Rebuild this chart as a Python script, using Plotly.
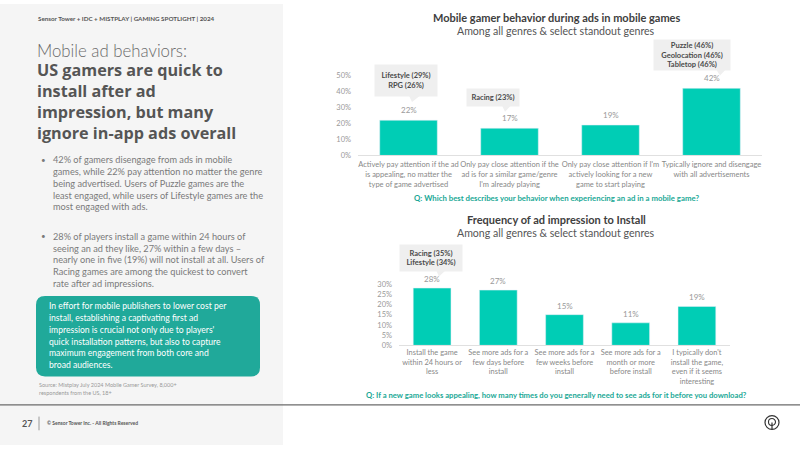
import plotly.graph_objects as go

# ---------------- data ----------------
cats1 = [
    "Actively pay attention if the ad<br>is appealing, no matter the<br>type of game advertised",
    "Only pay close attention if the<br>ad is for a similar game/genre<br>I'm already playing",
    "Only pay close attention if I'm<br>actively looking for a new<br>game to start playing",
    "Typically ignore and disengage<br>with all advertisements",
]
vals1 = [22, 17, 19, 42]
ticks1 = [0, 10, 20, 30, 40, 50]

cats2 = [
    "Install the game<br>within 24 hours or<br>less",
    "See more ads for a<br>few days before<br>install",
    "See more ads for a<br>few weeks before<br>install",
    "See more ads for a<br>month or more<br>before install",
    "I typically don't<br>install the game,<br>even if it seems<br>interesting",
]
vals2 = [28, 27, 15, 11, 19]
ticks2 = [0, 5, 10, 15, 20, 25, 30]

callout_texts1 = ["Lifestyle (29%)<br>RPG (26%)", "Racing (23%)",
                  "Puzzle (46%)<br>Geolocation (46%)<br>Tabletop (46%)"]
callout_texts2 = ["Racing (35%)<br>Lifestyle (34%)"]

title1 = "Mobile gamer behavior during ads in mobile games"
title2 = "Frequency of ad impression to Install"
subtitle = "Among all genres & select standout genres"
question1 = "Q: Which best describes your behavior when experiencing an ad in a mobile game?"
question2 = "Q: If a new game looks appealing, how many times do you generally need to see ads for it before you download?"

header = "Sensor Tower + IDC + MISTPLAY | GAMING SPOTLIGHT | 2024"
headline_light = "Mobile ad behaviors:"
headline_bold = ["US gamers are quick to", "install after ad", "impression, but many",
                 "ignore in-app ads overall"]
bullet1 = ["42% of gamers disengage from ads in mobile",
           "games, while 22% pay attention no matter the genre",
           "being advertised. Users of Puzzle games are the",
           "least engaged, while users of Lifestyle games are the",
           "most engaged with ads."]
bullet2 = ["28% of players install a game within 24 hours of",
           "seeing an ad they like, 27% within a few days –",
           "nearly one in five (19%) will not install at all. Users of",
           "Racing games are among the quickest to convert",
           "rate after ad impressions."]
box_lines = ["In effort for mobile publishers to lower cost per",
             "install, establishing a captivating first ad",
             "impression is crucial not only due to players'",
             "quick installation patterns, but also to capture",
             "maximum engagement from both core and",
             "broad audiences."]
source_lines = ["Source: Mistplay July 2024 Mobile Gamer Survey, 8,000+",
                "respondents from the US, 18+"]
page_no = "27"
copyright_txt = "© Sensor Tower Inc. - All Rights Reserved"

# ---------------- style ----------------
W, H = 800, 450
FONT = "Lato, 'Open Sans', sans-serif"
HEAD = "'Open Sans', Lato, sans-serif"
BAR = "#00cdb5"
TEAL_BOX = "#20a99a"
TEAL_TXT = "#1aa896"
GRAY = "#7a7a7a"


def px(x):
    return x / W


def py(y):
    return 1 - y / H


fig = go.Figure()
fig.add_trace(go.Bar(x=cats1, y=vals1, marker_color=BAR, width=0.57,
                     xaxis="x", yaxis="y", hoverinfo="skip"))
fig.add_trace(go.Bar(x=cats2, y=vals2, marker_color=BAR, width=0.57,
                     xaxis="x2", yaxis="y2", hoverinfo="skip"))

ann = []
shapes = []


def text(x, y, t, size, color, family=FONT, anchor="left", **kw):
    font = dict(family=family, size=size, color=color)
    if "weight" in kw:
        font["weight"] = kw.pop("weight")
    ann.append(dict(x=px(x), y=py(y), xref="paper", yref="paper", text=t, showarrow=False,
                    xanchor=anchor, yanchor="middle", borderpad=0, font=font, **kw))


# value labels
for c, v in zip(cats1, vals1):
    ann.append(dict(x=c, y=v, xref="x", yref="y", text=f"{v}%", showarrow=False,
                    yshift=10, font=dict(family=FONT, size=8, color="#999999")))
for c, v in zip(cats2, vals2):
    ann.append(dict(x=c, y=v, xref="x2", yref="y2", text=f"{v}%", showarrow=False,
                    yshift=9, font=dict(family=FONT, size=8, color="#999999")))

# callouts (box center px, size, pointer triangle px)
callout_geo1 = [
    (406, 78.5, 62, 31, [(409, 93.5), (420, 93.5), (412, 100)]),
    (493, 95.5, 52, 17, [(502, 103.5), (511, 103.5), (505, 110)]),
    (692, 52, 76, 30, [(716, 66.5), (726, 66.5), (720, 73)]),
]
callout_geo2 = [
    (430.5, 259, 62, 26, [(436, 271.5), (446, 271.5), (439, 278)]),
]
for txt, (cx, cy, w, h, tri) in list(zip(callout_texts1, callout_geo1)) + list(zip(callout_texts2, callout_geo2)):
    ann.append(dict(x=px(cx), y=py(cy), xref="paper", yref="paper", text=f"<b>{txt}</b>",
                    showarrow=False, width=w, height=h, bgcolor="#efefef", align="center",
                    valign="middle", borderpad=0, xanchor="center", yanchor="middle",
                    font=dict(family=FONT, size=7.5, color="#4a4a4a")))
    path = "M {} {} L {} {} L {} {} Z".format(*[v for p in tri for v in (px(p[0]), py(p[1]))])
    shapes.append(dict(type="path", xref="paper", yref="paper", path=path,
                       fillcolor="#efefef", line=dict(width=0)))

# chart titles and questions
for txt, y, size, bold, color in [
    (title1, 14, 11, True, "#404040"), (subtitle, 27.5, 10.6, False, "#555555"),
    (question1, 198, 7.8, True, TEAL_TXT),
    (title2, 220, 11, True, "#404040"), (subtitle, 233.5, 10.6, False, "#555555"),
    (question2, 399, 7.7, True, TEAL_TXT),
]:
    text(556, y, f"<b>{txt}</b>" if bold else txt, size, color, anchor="center")

# left panel
shapes.append(dict(type="rect", xref="paper", yref="paper", x0=0, x1=px(283), y0=0, y1=1,
                   fillcolor="#f5f5f5", line=dict(width=0), layer="below"))
text(37, 15, f"<b>{header}</b>", 6.25, "#555555")
text(36, 47, headline_light, 16.8, "#6a6a6a", weight=300)
text(36, 68 + 1.5 * 21, "<br>".join(f"<b>{l}</b>" for l in headline_bold), 16.2, "#555555",
     family=HEAD, align="left")
for start, lines in [(159, bullet1), (237, bullet2)]:
    text(40, start, "•", 8, GRAY)
    for i, line in enumerate(lines):
        text(52, start + i * 12, line, 9.2, GRAY)

# teal rounded box
x0, x1, y0, y1, r = 36, 260, 298, 380, 9
path = (f"M {px(x0 + r)} {py(y0)} L {px(x1 - r)} {py(y0)} Q {px(x1)} {py(y0)} {px(x1)} {py(y0 + r)} "
        f"L {px(x1)} {py(y1 - r)} Q {px(x1)} {py(y1)} {px(x1 - r)} {py(y1)} "
        f"L {px(x0 + r)} {py(y1)} Q {px(x0)} {py(y1)} {px(x0)} {py(y1 - r)} "
        f"L {px(x0)} {py(y0 + r)} Q {px(x0)} {py(y0)} {px(x0 + r)} {py(y0)} Z")
shapes.append(dict(type="path", xref="paper", yref="paper", path=path,
                   fillcolor=TEAL_BOX, line=dict(width=0)))
for i, line in enumerate(box_lines):
    text(48, 308.5 + i * 12, line, 8.6, "white")
for i, line in enumerate(source_lines):
    text(38, 389 + i * 8, line, 5.5, "#999999")

# footer
shapes.append(dict(type="line", xref="paper", yref="paper", x0=0, x1=1, y0=py(409), y1=py(409),
                   line=dict(color="#6b6b6b", width=1.2)))
shapes.append(dict(type="line", xref="paper", yref="paper", x0=px(39), x1=px(39),
                   y0=py(421), y1=py(435), line=dict(color="#999999", width=1)))
text(21, 428, f"<b>{page_no}</b>", 9, "#555555")
text(46, 428, f"<b>{copyright_txt}</b>", 5, "#555555")
# logo
shapes.append(dict(type="circle", xref="paper", yref="paper", x0=px(765), x1=px(779),
                   y0=py(434), y1=py(420), line=dict(color="#333333", width=1.2)))
shapes.append(dict(type="circle", xref="paper", yref="paper", x0=px(768.5), x1=px(775.5),
                   y0=py(430), y1=py(423), line=dict(color="#333333", width=1.1)))
shapes.append(dict(type="line", xref="paper", yref="paper", x0=px(772), x1=px(772),
                   y0=py(434), y1=py(427), line=dict(color="#333333", width=1.2)))

fig.update_layout(
    width=W, height=H, autosize=False, margin=dict(l=0, r=0, t=0, b=0, pad=0),
    paper_bgcolor="white", plot_bgcolor="white", showlegend=False,
    font=dict(family=FONT),
    xaxis=dict(domain=[px(358), px(762)], anchor="y", showgrid=False, showline=True,
               linecolor="#e0e0e0", linewidth=1, ticks="", tickangle=0,
               ticklabelstandoff=2,
               tickfont=dict(family=FONT, size=7.5, color="#888888")),
    yaxis=dict(domain=[py(154.5), py(73)], anchor="x", range=[0, 50], tickvals=ticks1,
               ticktext=[f"{t}%" for t in ticks1], showgrid=False, zeroline=False,
               ticklabelstandoff=6, tickfont=dict(family=FONT, size=7.5, color="#999999")),
    xaxis2=dict(domain=[px(399), px(730)], anchor="y2", showgrid=False, showline=True,
                linecolor="#e0e0e0", linewidth=1, ticks="", tickangle=0,
                tickfont=dict(family=FONT, size=7.4, color="#888888")),
    yaxis2=dict(domain=[py(348.3), py(285.7)], anchor="x2", range=[0, 30], tickvals=ticks2,
                ticktext=[f"{t}%" for t in ticks2], showgrid=False, zeroline=False,
                ticklabelstandoff=6, tickfont=dict(family=FONT, size=7.5, color="#999999")),
    annotations=ann, shapes=shapes, bargap=0.43,
)

fig.write_html("out.html", config={"responsive": False})
